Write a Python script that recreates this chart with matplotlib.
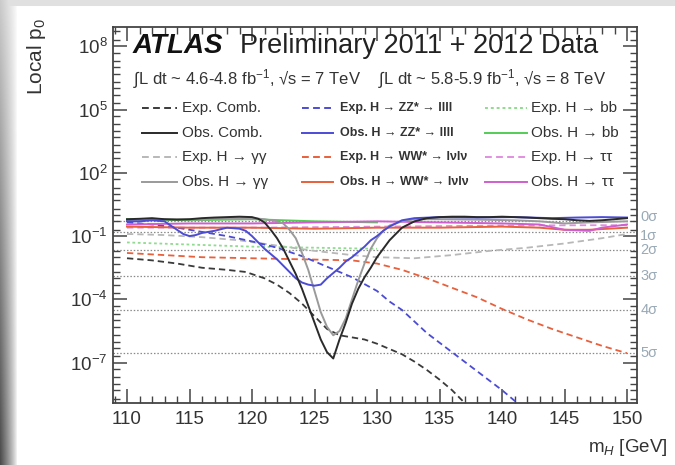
import numpy as np
import matplotlib
matplotlib.use("Agg")
import matplotlib.pyplot as plt
from matplotlib.lines import Line2D
from matplotlib.ticker import FixedLocator, LogFormatterMathtext, NullFormatter, MultipleLocator
import matplotlib.transforms as mtransforms

plt.rcParams['font.family'] = ['Liberation Sans', 'DejaVu Sans']
plt.rcParams['mathtext.fontset'] = 'custom'
plt.rcParams['mathtext.rm'] = 'Liberation Sans'
plt.rcParams['mathtext.it'] = 'Liberation Sans:italic'
plt.rcParams['mathtext.bf'] = 'Liberation Sans:bold'

# ---------------- data (log10 of local p0) ----------------
m_obs_comb = [110, 111, 112, 113, 114, 115, 116, 117, 118, 119, 120, 120.5, 121, 121.5, 122, 122.5,
              123, 123.5, 124, 124.5, 125, 125.5, 126, 126.5, 127, 127.5, 128, 128.5, 129, 129.5,
              130, 130.5, 131, 131.5, 132, 133, 134, 135, 136, 137, 138, 139, 140, 141, 142, 143,
              144, 145, 146, 147, 148, 149, 150]
lp_obs_comb = [-0.2, -0.18, -0.15, -0.2, -0.22, -0.2, -0.15, -0.12, -0.1, -0.08, -0.1, -0.18, -0.35,
               -0.7, -1.1, -1.6, -2.2, -2.8, -3.5, -4.3, -5.1, -5.9, -6.5, -6.8, -5.9, -5.1, -4.2,
               -3.5, -2.95, -2.5, -2.0, -1.6, -1.2, -0.9, -0.6, -0.3, -0.15, -0.1, -0.08, -0.08,
               -0.1, -0.1, -0.08, -0.1, -0.12, -0.15, -0.18, -0.2, -0.25, -0.28, -0.25, -0.2, -0.15]

m_obs_gg = [110, 112, 114, 116, 118, 120, 121, 122, 122.5, 123, 123.5, 124, 124.5, 125, 125.5, 126,
            126.5, 127, 127.5, 128, 128.5, 129, 129.5, 130, 130.5, 131, 132, 133, 135, 138, 141,
            143, 145, 147, 150]
lp_obs_gg = [-0.25, -0.2, -0.2, -0.22, -0.15, -0.15, -0.2, -0.3, -0.4, -0.7, -1.1, -1.8, -2.6, -3.6,
             -4.6, -5.3, -5.7, -5.5, -4.9, -4.0, -3.1, -2.3, -1.6, -1.1, -0.75, -0.5, -0.3, -0.2,
             -0.2, -0.22, -0.25, -0.3, -0.4, -0.35, -0.3]

m_obs_zz = [110, 111, 112, 113, 113.5, 114, 114.5, 115, 115.5, 116, 116.5, 117, 118, 119, 119.5, 120,
            120.5, 121, 121.5, 122, 122.5, 123, 123.5, 124, 124.5, 125, 125.5, 126, 126.5, 127,
            127.5, 128, 128.5, 129, 129.5, 130, 130.5, 131, 131.5, 132, 133, 135, 138, 141, 144,
            146, 148, 150]
lp_obs_zz = [-0.3, -0.3, -0.25, -0.3, -0.5, -0.7, -0.9, -1.0, -0.95, -0.85, -0.8, -0.75, -0.6, -0.65,
             -0.75, -1.0, -1.3, -1.6, -1.85, -2.1, -2.4, -2.7, -3.0, -3.2, -3.3, -3.35, -3.3, -3.0,
             -2.75, -2.5, -2.2, -2.0, -1.75, -1.5, -1.2, -1.0, -0.75, -0.55, -0.4, -0.25, -0.15,
             -0.1, -0.12, -0.1, -0.15, -0.12, -0.1, -0.12]

m_obs_ww = [110, 115, 120, 125, 130, 135, 140, 143, 145, 147, 150]
lp_obs_ww = [-0.55, -0.6, -0.6, -0.65, -0.6, -0.6, -0.55, -0.6, -0.7, -0.7, -0.6]

m_obs_tt = [110, 115, 120, 125, 130, 135, 140, 143, 145, 147, 148, 150]
lp_obs_tt = [-0.45, -0.4, -0.4, -0.35, -0.3, -0.35, -0.4, -0.45, -0.7, -0.75, -0.6, -0.45]

m_obs_bb = [110, 115, 120, 125, 130]
lp_obs_bb = [-0.2, -0.25, -0.2, -0.3, -0.35]

m_exp_comb = [110, 112, 114, 116, 118, 119.5, 121, 122, 123, 124, 125, 126, 127, 128, 129, 130,
              131, 132, 133, 134, 135, 136, 137, 138]
lp_exp_comb = [-2.05, -2.15, -2.3, -2.5, -2.6, -2.7, -3.0, -3.3, -3.7, -4.2, -4.8, -5.4, -5.7, -5.8,
               -5.9, -6.1, -6.35, -6.6, -6.95, -7.35, -7.8, -8.3, -8.9, -9.5]

m_exp_zz = [110, 112, 114, 116, 118, 120, 122, 124, 126, 128, 130, 131, 132, 134, 136, 138, 140, 142]
lp_exp_zz = [-0.35, -0.45, -0.6, -0.8, -1.0, -1.25, -1.55, -1.95, -2.45, -2.95, -3.6, -4.1, -4.5,
             -5.6, -6.5, -7.4, -8.3, -9.3]

m_exp_ww = [110, 113, 116, 120, 124, 128, 130, 132, 134, 136, 138, 140, 142, 144, 146, 148, 150]
lp_exp_ww = [-1.8, -1.9, -2.0, -2.05, -2.1, -2.15, -2.3, -2.6, -3.0, -3.45, -3.9, -4.45, -4.95,
             -5.4, -5.8, -6.2, -6.55]

m_exp_gg = [110, 113, 116, 119, 122, 125, 128, 130, 133, 136, 139, 142, 145, 148, 150]
lp_exp_gg = [-0.9, -0.95, -1.05, -1.2, -1.45, -1.7, -1.9, -2.0, -2.05, -1.9, -1.7, -1.55, -1.35,
             -1.1, -0.9]

m_exp_bb = [110, 115, 120, 125, 130]
lp_exp_bb = [-1.3, -1.4, -1.5, -1.55, -1.6]

m_exp_tt = [110, 120, 130, 140, 150]
lp_exp_tt = [-0.6, -0.6, -0.55, -0.5, -0.48]

sigma_labels = ["0σ", "1σ", "2σ", "3σ", "4σ", "5σ"]
sigma_p = [0.5, 0.1587, 0.02275, 1.35e-3, 3.17e-5, 2.87e-7]

x_ticks = [110, 115, 120, 125, 130, 135, 140, 145, 150]
y_major = [1e-7, 1e-4, 1e-1, 1e2, 1e5, 1e8]

# ---------------- figure ----------------
W, H = 675, 465
fig = plt.figure(figsize=(W / 100, H / 100), dpi=100)

# decorative grey frame at the left / top edges
bg = fig.add_axes([0, 0, 1, 1], zorder=-10)
bg.set_axis_off()
gx = np.linspace(0, 1, W)
gy = np.linspace(0, 1, H)[:, None]
shade = np.clip(1 - gx / 0.025, 0, 1)[None, :] ** 0.8 * (0.2 + 0.5 * gy)
top = np.where(gy < 0.015, 0.12, 0.0) * np.ones((1, W))
img = 1 - np.maximum(shade, top)
bg.imshow(np.dstack([img, img, img]), aspect='auto', extent=[0, 1, 0, 1], origin='upper')
bg.set_xlim(0, 1); bg.set_ylim(0, 1)

def px2fig(x, y):
    return x / W, 1 - y / H

L, R, T, B = 113, 637, 27, 403
ax = fig.add_axes([L / W, 1 - B / H, (R - L) / W, (B - T) / H])
ax.set_yscale('log')
ax.set_xlim(108.88, 150.8)
ax.set_ylim(10 ** -8.91, 10 ** 8.91)

txtc = '#333333'
ex_dash = (0, (3.5, 2.2))

def p(v):
    return 10 ** np.asarray(v)

# sigma lines
for sp_ in sigma_p:
    ax.axhline(sp_, color='#8a8a8a', lw=0.9, ls=(0, (1.2, 1.5)), zorder=1)

c_comb = '#2a2a2a'
c_gg = '#9a9a9a'
c_zz = '#4b4bd6'
c_ww = '#e8603c'
c_bb = '#55cc55'
c_tt = '#cf5fcf'

lw_e = 1.3
lw_o = 1.4
ax.plot(m_exp_gg, p(lp_exp_gg), color='#b8b8b8', ls=ex_dash, lw=lw_e, zorder=2)
ax.plot(m_exp_bb, p(lp_exp_bb), color='#8fdc8f', ls=(0, (1.5, 1.5)), lw=lw_e, zorder=2)
ax.plot(m_exp_tt, p(lp_exp_tt), color='#e08fe0', ls=ex_dash, lw=lw_e, zorder=2)
ax.plot(m_exp_ww, p(lp_exp_ww), color=c_ww, ls=ex_dash, lw=lw_e, zorder=2)
ax.plot(m_exp_zz, p(lp_exp_zz), color=c_zz, ls=ex_dash, lw=lw_e, zorder=2)
ax.plot(m_exp_comb, p(lp_exp_comb), color='#3a3a3a', ls=ex_dash, lw=lw_e, zorder=2)

ax.plot(m_obs_bb, p(lp_obs_bb), color=c_bb, lw=lw_o, zorder=3)
ax.plot(m_obs_ww, p(lp_obs_ww), color=c_ww, lw=lw_o, zorder=3)
ax.plot(m_obs_tt, p(lp_obs_tt), color=c_tt, lw=lw_o, zorder=3)
ax.plot(m_obs_gg, p(lp_obs_gg), color=c_gg, lw=lw_o, zorder=3)
ax.plot(m_obs_zz, p(lp_obs_zz), color=c_zz, lw=lw_o, zorder=3)
ax.plot(m_obs_comb, p(lp_obs_comb), color=c_comb, lw=lw_o, zorder=4)

# sigma labels right of the frame (0 and 1 sigma nudged apart as in the original)
trans = mtransforms.blended_transform_factory(ax.transAxes, ax.transData)
nudge = [3, -3, 0, 0, 0, 0]
for lab, sp_, dy in zip(sigma_labels, sigma_p, nudge):
    off = mtransforms.offset_copy(trans, fig=fig, x=0, y=dy, units='points')
    ax.text(1.006, sp_, lab, transform=off, ha='left', va='center', fontsize=10.5,
            color='#98a9b6', clip_on=False)

# ticks
ax.xaxis.set_major_locator(FixedLocator(x_ticks))
ax.xaxis.set_minor_locator(MultipleLocator(1))
ax.yaxis.set_major_locator(FixedLocator(y_major))
minors = []
for k in range(-9, 10):
    for s in (1, 2, 5):
        v = s * 10.0 ** k
        if s == 1 and v in y_major:
            continue
        minors.append(v)
ax.yaxis.set_minor_locator(FixedLocator(minors))
ax.yaxis.set_major_formatter(LogFormatterMathtext())
ax.yaxis.set_minor_formatter(NullFormatter())
ax.tick_params(which='both', direction='in', top=True, right=True, colors='#444444',
               labelcolor=txtc, labelsize=13.5)
ax.tick_params(which='major', length=10, width=1.1)
ax.tick_params(which='minor', length=5, width=1.0)
ax.tick_params(axis='x', pad=6)
ax.tick_params(axis='y', pad=4)
for s in ax.spines.values():
    s.set_color('#444444')
    s.set_linewidth(1.3)

# axis titles
fig.text(*px2fig(37, 18), 'Local p$_0$', rotation=90, ha='center', va='top',
         fontsize=15, color=txtc)
fig.text(*px2fig(668, 447), 'm$_H$ [GeV]', ha='right', va='center', fontsize=13.5, color=txtc)

# header
def axc(x, y):
    return (x - L) / (R - L), (B - y) / (B - T)

ax.text(*axc(133, 53), 'ATLAS', transform=ax.transAxes, fontsize=20, fontweight='bold',
        style='italic', color='#111111', ha='left', va='baseline')
ax.text(*axc(240, 53), 'Preliminary 2011 + 2012 Data', transform=ax.transAxes, fontsize=19.5,
        color='#222222', ha='left', va='baseline')
ax.text(*axc(133, 84), '∫L dt ~ 4.6-4.8 fb$^{-1}$, √s = 7 TeV', transform=ax.transAxes,
        fontsize=12, color=txtc, ha='left', va='baseline')
ax.text(*axc(378, 84), '∫L dt ~ 5.8-5.9 fb$^{-1}$, √s = 8 TeV', transform=ax.transAxes,
        fontsize=12, color=txtc, ha='left', va='baseline')

# legend (3 columns x 4 rows)
rows = [108, 133, 157, 182]
col1 = [("Exp. Comb.", '#3a3a3a', ex_dash), ("Obs. Comb.", c_comb, '-'),
        ("Exp. H → γγ", '#b8b8b8', ex_dash), ("Obs. H → γγ", c_gg, '-')]
col2 = [("Exp. H → ZZ* → llll", c_zz, ex_dash), ("Obs. H → ZZ* → llll", c_zz, '-'),
        ("Exp. H → WW* → lνlν", c_ww, ex_dash), ("Obs. H → WW* → lνlν", c_ww, '-')]
col3 = [("Exp. H → bb", '#8fdc8f', (0, (1.5, 1.5))), ("Obs. H → bb", c_bb, '-'),
        ("Exp. H → ττ", '#e08fe0', ex_dash), ("Obs. H → ττ", c_tt, '-')]
cols = [(col1, 142, 177, 182, 11, 'normal'), (col2, 302, 333, 340, 9, 'bold'),
        (col3, 485, 527, 531, 11, 'normal')]
for entries, x0, x1, xt, fs, fw in cols:
    for (lab, col, ls), y in zip(entries, rows):
        ax0, ay = axc(x0, y)
        ax1, _ = axc(x1, y)
        ax.add_line(Line2D([ax0, ax1], [ay, ay], transform=ax.transAxes, color=col, ls=ls,
                           lw=1.4, clip_on=False))
        ax.text(axc(xt, y)[0], ay, lab, transform=ax.transAxes, fontsize=fs, fontweight=fw,
                color=txtc, ha='left', va='center')

fig.savefig('out.png', dpi=100)
